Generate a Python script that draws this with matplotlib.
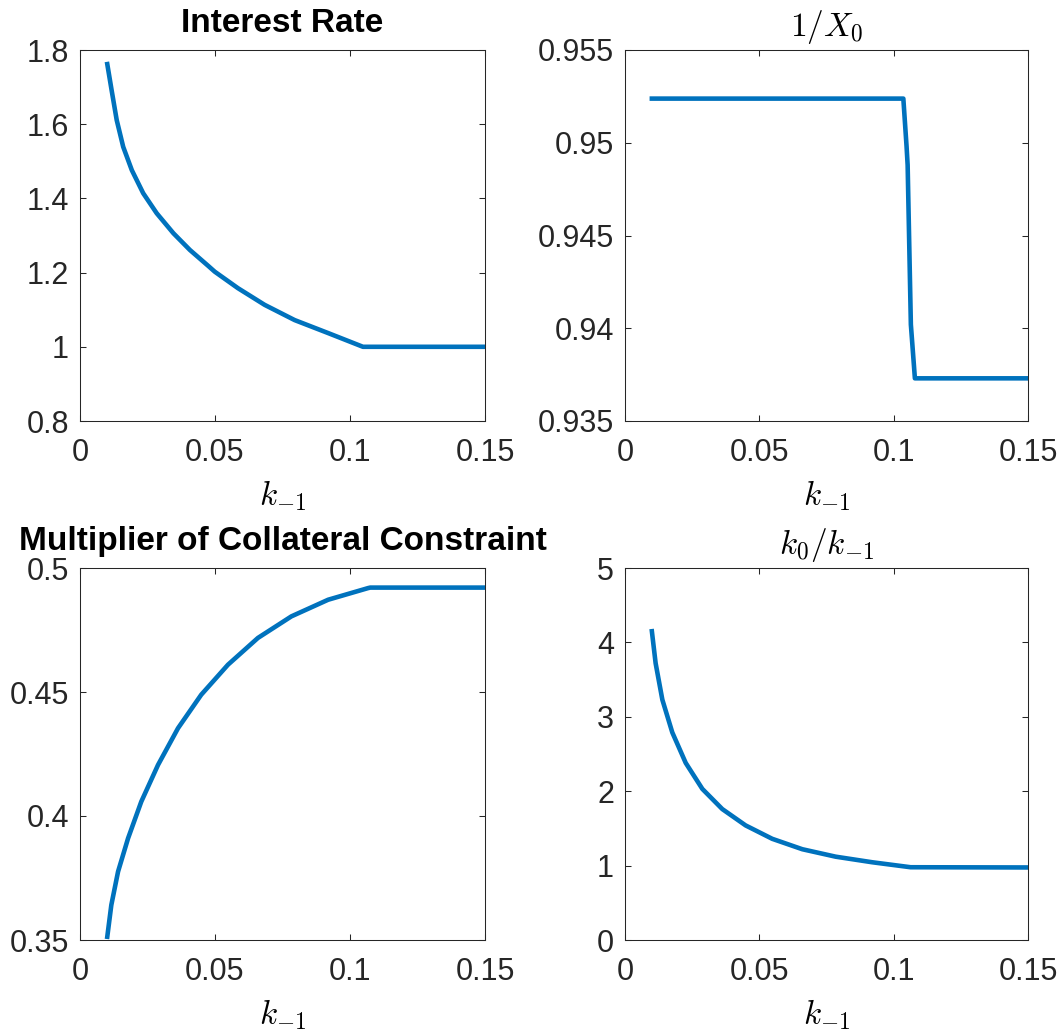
import matplotlib
matplotlib.use("Agg")
import matplotlib.pyplot as plt
from matplotlib.ticker import FormatStrFormatter

# values
rate_k = [0.0101, 0.0117, 0.0136, 0.0160, 0.0192, 0.0234, 0.0284, 0.0346, 0.0407,
          0.0475, 0.0499, 0.0585, 0.0684, 0.0795, 0.0919, 0.1048, 0.1500]
rate_y = [1.762, 1.692, 1.611, 1.539, 1.476, 1.414, 1.360, 1.306, 1.261,
          1.218, 1.2025, 1.158, 1.113, 1.072, 1.037, 1.000, 1.000]

invx_k = [0.0100, 0.1036, 0.1048, 0.1052, 0.1064, 0.1079, 0.1500]
invx_y = [0.95238, 0.95238, 0.9498, 0.9488, 0.9402, 0.9373, 0.9373]

mult_k = [0.0101, 0.0116, 0.0141, 0.0178, 0.0227, 0.0289, 0.0363, 0.0449, 0.0548,
          0.0659, 0.0783, 0.0919, 0.1067, 0.1075, 0.1500]
mult_y = [0.3513, 0.3641, 0.3776, 0.3910, 0.4058, 0.4206, 0.4354, 0.4489, 0.4610,
          0.4718, 0.4805, 0.4872, 0.4919, 0.4921, 0.4921]

kk_k = [0.0100, 0.0114, 0.0139, 0.0176, 0.0226, 0.0288, 0.0362, 0.0449, 0.0548,
        0.0660, 0.0784, 0.0920, 0.1063, 0.1500]
kk_y = [4.15, 3.72, 3.23, 2.79, 2.38, 2.03, 1.76, 1.54, 1.36,
        1.22, 1.12, 1.045, 0.978, 0.975]

panels = [
    (rate_k, rate_y, "Interest Rate", (0.8, 1.8), [0.8, 1.0, 1.2, 1.4, 1.6, 1.8]),
    (invx_k, invx_y, r"$1/X_0$", (0.935, 0.955), [0.935, 0.94, 0.945, 0.95, 0.955]),
    (mult_k, mult_y, "Multiplier of Collateral Constraint", (0.35, 0.5), [0.35, 0.4, 0.45, 0.5]),
    (kk_k, kk_y, r"$k_0/k_{-1}$", (0, 5), [0, 1, 2, 3, 4, 5]),
]

plt.rcParams["font.family"] = ["Liberation Sans", "DejaVu Sans"]
plt.rcParams["mathtext.fontset"] = "cm"

W, H = 1063, 1032
fig = plt.figure(figsize=(W / 100, H / 100), dpi=100)

# axes boxes in pixels: left, top, right, bottom
boxes = [(80, 50, 485, 421), (625, 50, 1028, 421),
         (80, 568, 485, 940), (625, 568, 1028, 940)]

dark = "#262626"
for (k, y, title, ylim, yticks), (x0, y0, x1, y1) in zip(panels, boxes):
    ax = fig.add_axes([x0 / W, 1 - y1 / H, (x1 - x0) / W, (y1 - y0) / H])
    ax.plot(k, y, color="#0072BD", lw=3.3, solid_joinstyle="round")
    ax.set_xlim(0, 0.15)
    ax.set_ylim(*ylim)
    ax.set_xticks([0, 0.05, 0.1, 0.15])
    ax.set_yticks(yticks)
    ax.xaxis.set_major_formatter(FormatStrFormatter("%g"))
    ax.yaxis.set_major_formatter(FormatStrFormatter("%g"))
    ax.tick_params(direction="in", top=True, right=True, length=4.5, width=0.75,
                   colors=dark, labelsize=22)
    ax.tick_params(axis="x", pad=12.5)
    ax.tick_params(axis="y", pad=8)
    for s in ax.spines.values():
        s.set_color(dark)
        s.set_linewidth(0.75)
    if title.startswith("$"):
        ax.set_title(title, fontsize=24, pad=10)
    else:
        ax.set_title(title, fontsize=24, fontweight="bold", pad=13)
    ax.set_xlabel(r"$k_{-1}$", fontsize=24, labelpad=7)

fig.savefig("out.png", dpi=100)
